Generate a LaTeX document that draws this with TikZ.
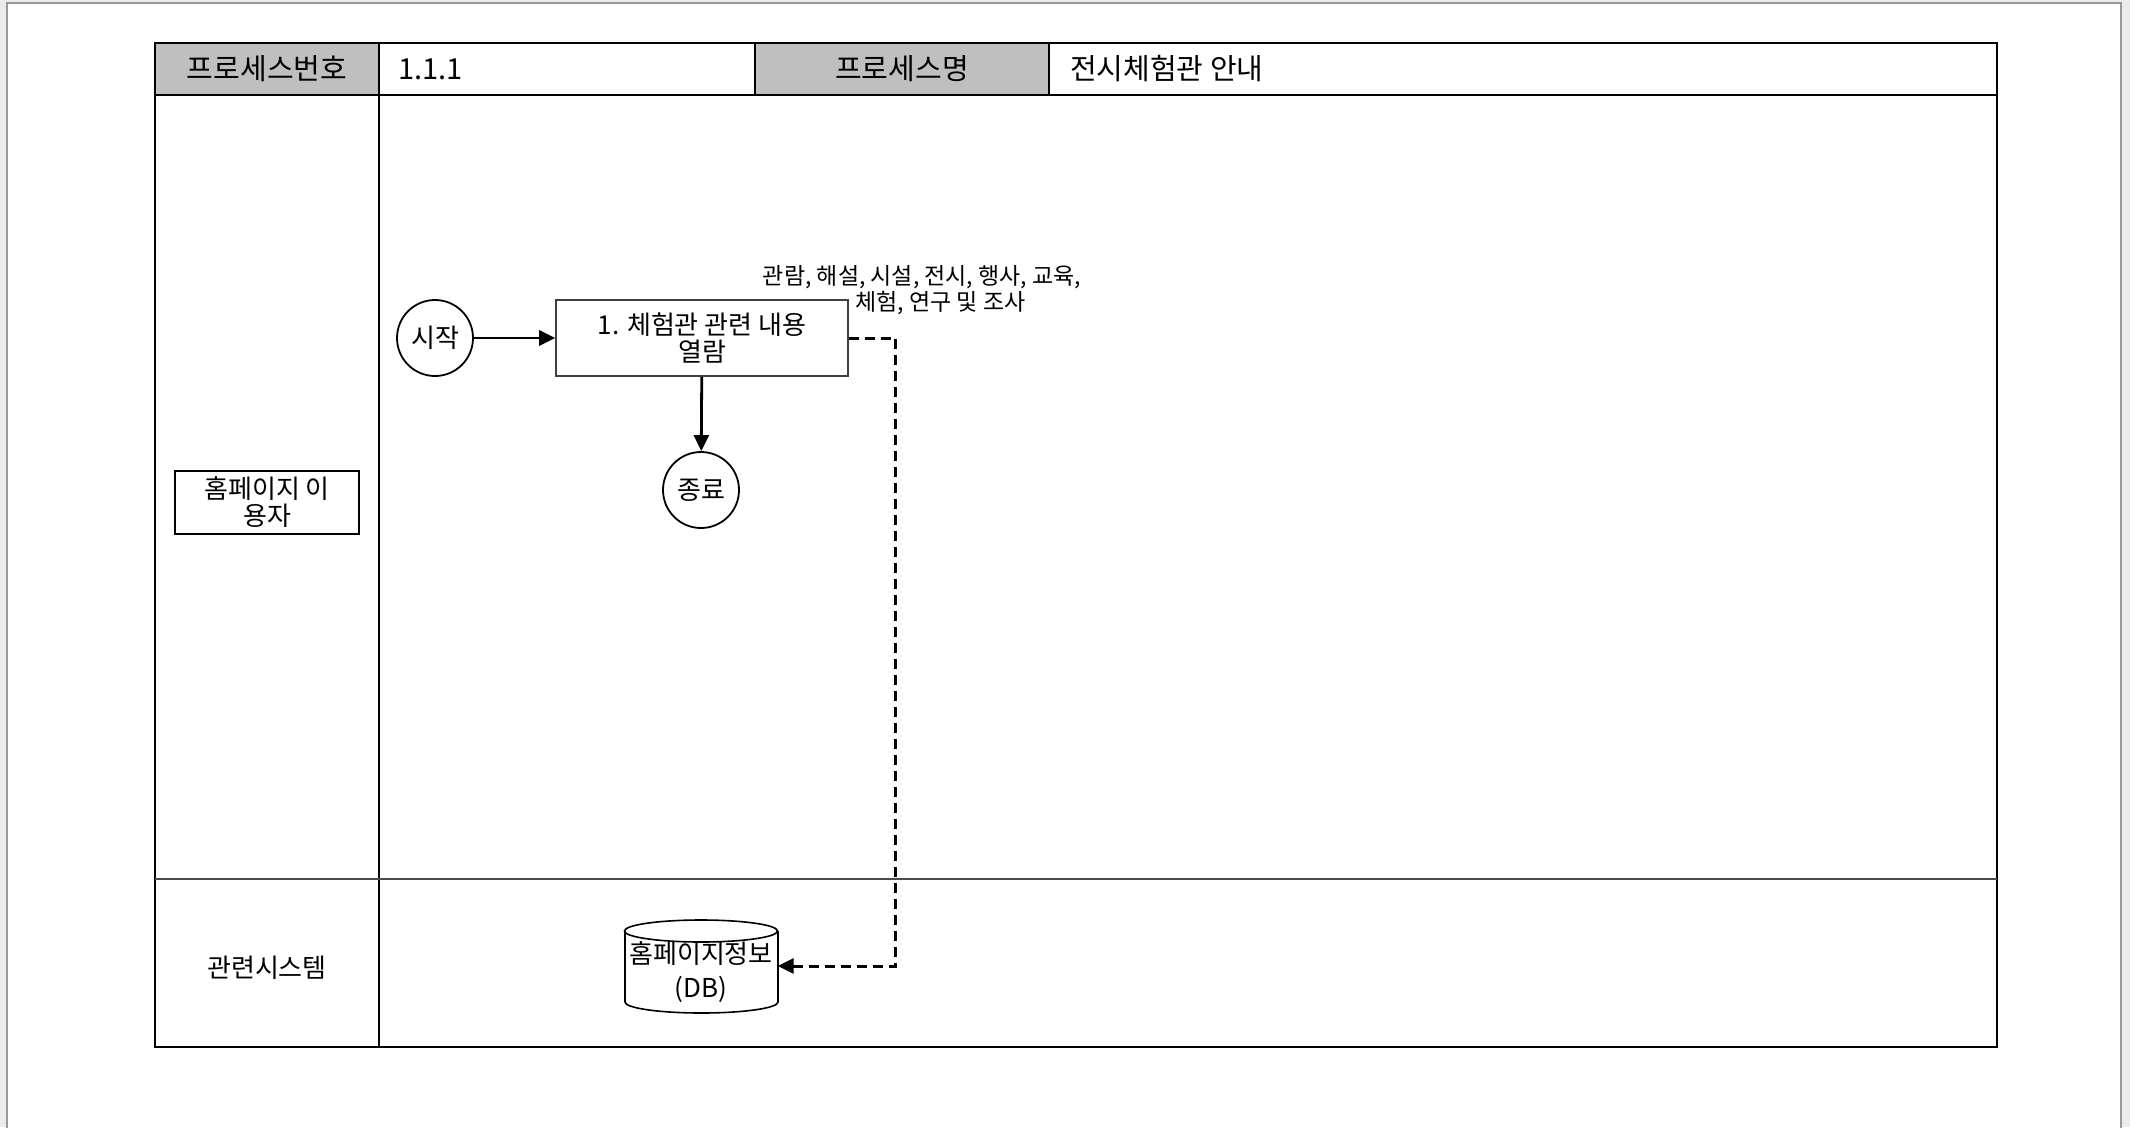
\documentclass[tikz,border=0pt]{standalone}
\usepackage{fontspec}
\setmainfont{Noto Sans CJK KR}
\usetikzlibrary{arrows.meta}
\begin{document}
\begin{tikzpicture}[x=1pt,y=-1pt,
  hdr/.style={font=\fontsize{29}{32}\selectfont, inner sep=0pt},
  body/.style={font=\fontsize{26}{27}\selectfont, align=center},
  small/.style={font=\fontsize{23}{26}\selectfont, align=center},
  circ/.style={body, draw, circle, line width=1.8pt, minimum size=76pt, inner sep=0pt, fill=white},
  proc/.style={body, draw=black!75, line width=1.6pt, minimum width=292pt, minimum height=76pt, inner sep=0pt, fill=white},
  lanebox/.style={body, draw, line width=2pt, minimum width=184pt, minimum height=63pt, inner sep=0pt},
  flow/.style={line width=2.8pt, -{Triangle[length=16pt,width=15pt]}},
  dflow/.style={line width=3pt, dash pattern=on 10pt off 6pt, -{Triangle[length=16pt,width=15pt]}}
]
\useasboundingbox (0,0) rectangle (2130,1127);
\fill[black!8] (0,0) rectangle (2130,1127);
\draw[draw=black!40, line width=2pt, fill=white] (7,1140) -- (7,3) -- (2121,3) -- (2121,1140);
% header row
\fill[black!25] (155,43) rectangle (379,95);
\fill[black!25] (755,43) rectangle (1049,95);
\draw[line width=2.5pt] (155,43) rectangle (1997,95);
\draw[line width=2pt] (379,43) -- (379,95) (755,43) -- (755,95) (1049,43) -- (1049,95);
\node[hdr] (h1) at (267,69) {프로세스번호};
\node[hdr, anchor=west] (h2) at (398,69) {1.1.1};
\node[hdr] (h3) at (902,69) {프로세스명};
\node[hdr, anchor=west] (h4) at (1070,69) {전시체험관 안내};
% body
\draw[line width=2.5pt] (155,95) rectangle (1997,1047);
\draw[line width=2pt] (379,95) -- (379,1047);
\draw[line width=1.5pt, black!70] (155,879) -- (1997,879);
% lane labels
\node[lanebox] (lane1) at (267,502) {홈페이지 이\\용자};
\node[body] (lane2) at (267,968) {관련시스템};
% nodes
\node[circ] (start) at (435,338) {시작};
\node[proc] (p1) at (702,338) {1. 체험관 관련 내용\\열람};
\node[circ] (end) at (701,490) {종료};
\node[small] (lbl) at (922,290) {관람, 해설, 시설, 전시, 행사, 교육,\\\hspace*{1.6em}체험, 연구 및 조사};
% database cylinder
\node[minimum width=153pt, minimum height=93pt, inner sep=0pt] (db) at (701,966) {};
\draw[line width=1.6pt, fill=white] (625,931) -- (625,1002) arc[start angle=180, end angle=0, x radius=76.5, y radius=11] -- (778,931);
\draw[line width=1.6pt, fill=white] (701,931) ellipse[x radius=76.5, y radius=11];
\node[body, font=\fontsize{26}{34}\selectfont] (dbt) at (701,972) {홈페이지정보\\(DB)};
% connectors
\draw[flow] (start) -- (p1);
\draw[flow] (p1) -- (end);
\draw[dflow] (p1.east) -- ++(47,0) |- (db.east);
\end{tikzpicture}
\end{document}
